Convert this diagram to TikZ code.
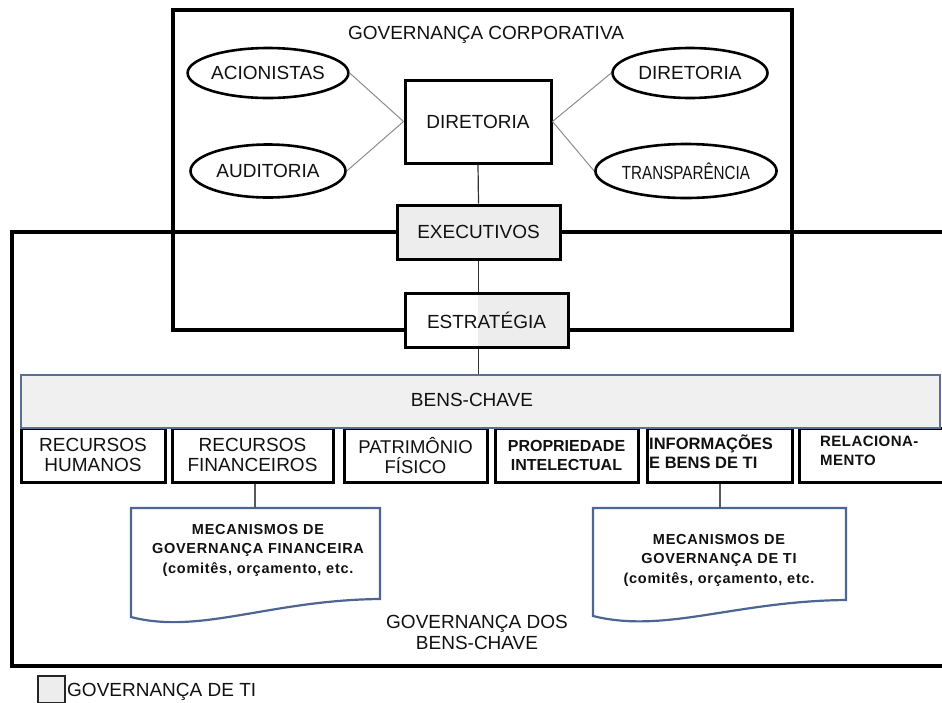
\documentclass[tikz,border=0pt]{standalone}
\usepackage{fontspec}
\setmainfont{Liberation Sans}
\newfontfamily\narrowfont[FakeStretch=0.8]{Liberation Sans}
\usetikzlibrary{shapes.geometric}
\definecolor{bandfill}{HTML}{F0F0F0}
\definecolor{bandline}{HTML}{5A6F94}
\definecolor{docline}{HTML}{4D6592}
\definecolor{lgray}{HTML}{EDEDED}
\definecolor{txt}{HTML}{111111}
\newcommand\setfs[2]{\fontsize{#1}{#2}\selectfont}
\begin{document}
\begin{tikzpicture}[x=1pt,y=-1pt,
  base/.style={text=txt, font=\setfs{19}{20}},
  box/.style={base, draw, line width=3pt, fill=white, inner sep=0pt, align=center},
  ell/.style={base, ellipse, draw, line width=2.6pt, fill=white, inner sep=0pt},
  spoke/.style={draw=black!45, line width=1pt},
  link/.style={draw=black!80, line width=1.2pt},
  frame/.style={draw=black, line width=3.2pt},
  rowbox/.style={draw, line width=3pt, fill=white, inner sep=0pt, minimum height=54pt, text=txt},
  doc/.style={draw=docline, line width=2.2pt, fill=white},
  doctxt/.style={text=txt, align=center, font=\bfseries\setfs{14.5}{19.5}\addfontfeature{LetterSpace=5}}
]
\useasboundingbox (0,0) rectangle (942,702);
\clip (0,0) rectangle (942,702);

% frames
\draw[frame] (173,10) rectangle (792,330);
\draw[frame] (960,232) -- (12,232) -- (12,666) -- (960,666);

% corporate governance
\node[base] (gc) at (486,35) {GOVERNANÇA CORPORATIVA};
\node[box, minimum width=146pt, minimum height=83pt] (dirbox) at (478,121.5) {DIRETORIA};
\node[ell, minimum width=155pt, minimum height=50pt] (acion) at (268,73) {ACIONISTAS};
\node[ell, minimum width=155pt, minimum height=50pt] (dirE) at (690,73) {DIRETORIA};
\node[ell, minimum width=155pt, minimum height=53pt] (audit) at (268,171) {AUDITORIA};
\node[ell, minimum width=167pt, minimum height=54pt, font=\narrowfont\setfs{19}{20}] (transp) at (686,171) {TRANSPARÊNCIA};
\draw[spoke] (acion.east) -- (dirbox.west);
\draw[spoke] (audit.east) -- (dirbox.west);
\draw[spoke] (dirE.west) -- (dirbox.east);
\draw[spoke] (transp.west) -- (dirbox.east);

% executives and strategy
\node[box, fill=lgray, minimum width=163pt, minimum height=54pt] (exec) at (478.5,232) {EXECUTIVOS};
\node[box, minimum width=163pt, minimum height=54pt,
  path picture={\fill[lgray] ([xshift=-8.5pt]path picture bounding box.north) rectangle (path picture bounding box.south east);}]
  (estr) at (486.5,320) {ESTRATÉGIA};
\draw[link] (dirbox.south) -- (exec.north);
\draw[link] (exec.south) -- (exec.south |- estr.north);

% key assets
\node[rowbox, minimum width=144pt, align=center, font=\setfs{19}{20}] (rh) at (93,455) {RECURSOS\\HUMANOS};
\node[rowbox, minimum width=161pt, align=center, font=\setfs{19}{20}] (rf) at (252.5,455) {RECURSOS\\FINANCEIROS};
\node[rowbox, minimum width=143pt, align=center, font=\setfs{18.5}{20}] (pf) at (415.5,455) {PATRIMÔNIO\\FÍSICO};
\node[rowbox, minimum width=143pt, align=center, font=\bfseries\setfs{16}{19}] (pi) at (566.5,455) {PROPRIEDADE\\INTELECTUAL};
\node[rowbox, minimum width=145pt] (ib) at (719.5,455) {};
\node[text=txt, anchor=west, align=left, inner sep=0pt, font=\bfseries\setfs{16.5}{19}] (ibt) at (649,452) {INFORMAÇÕES\\E BENS DE TI};
\node[rowbox, minimum width=151pt] (rel) at (874.5,455) {};
\node[text=txt, anchor=west, align=left, inner sep=0pt, font=\bfseries\setfs{15}{19}\addfontfeature{LetterSpace=3}] (relt) at (820,451) {RELACIONA-\\MENTO};

\node[base, draw=bandline, line width=2.2pt, fill=bandfill, minimum width=919pt, minimum height=53pt, inner sep=0pt] (band) at (480.5,401.5) {};
\node[base] (bandt) at (472,400) {BENS-CHAVE};
\draw[link] (exec.south |- estr.south) -- (exec.south |- band.north);

% mechanisms
\draw[doc] (131,508) -- (380,508) -- (380,599) .. controls (270,600) and (200,635) .. (131,617) -- cycle;
\draw[doc] (593,508) -- (846,508) -- (846,600) .. controls (735,601) and (665,634) .. (593,616) -- cycle;
\coordinate (fintop) at (255,508);
\coordinate (titop) at (720,508);
\draw[link, draw=black!65] (fintop |- rf.south) -- (fintop);
\draw[link, draw=black!65] (titop |- ib.south) -- (titop);
\node[doctxt] (fint) at (258,550) {MECANISMOS DE\\GOVERNANÇA FINANCEIRA\\(comitês, orçamento, etc.};
\node[doctxt] (tit) at (719,560) {MECANISMOS DE\\GOVERNANÇA DE TI\\(comitês, orçamento, etc.};

\node[base, align=center, font=\setfs{19}{21}] (gdb) at (477,632) {GOVERNANÇA DOS\\BENS-CHAVE};

% legend
\node[draw=black!85, line width=2.2pt, fill=lgray, minimum width=27pt, minimum height=27pt, inner sep=0pt] (leg) at (51.5,689.5) {};
\node[base, anchor=west, inner sep=0pt] (legt) at (67,692) {GOVERNANÇA DE TI};
\end{tikzpicture}
\end{document}
